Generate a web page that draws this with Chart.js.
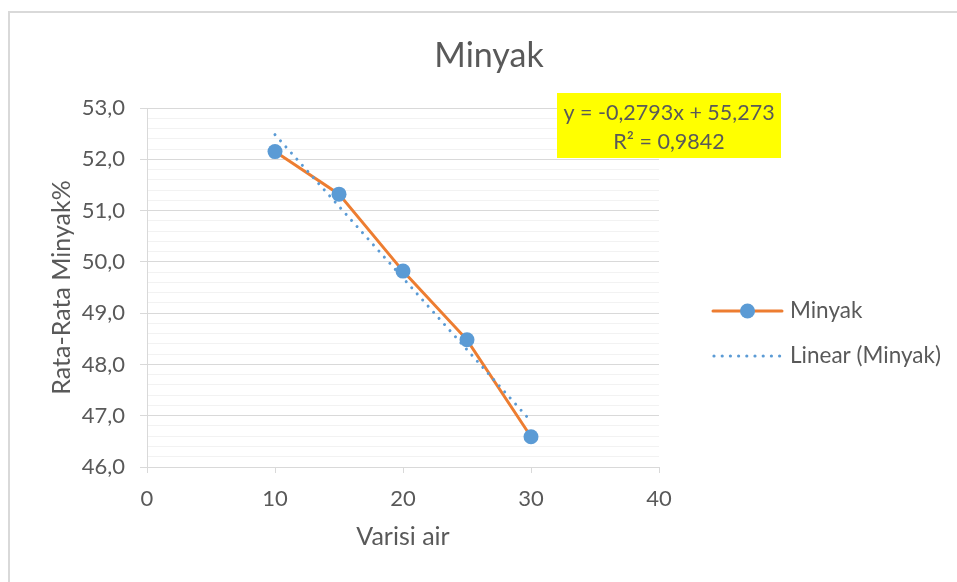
<!DOCTYPE html>
<html>
<head>
<meta charset="utf-8">
<script src="https://cdn.jsdelivr.net/npm/chart.js@4"></script>
<style>
  html, body { margin: 0; padding: 0; background: #fff; overflow: hidden; }
  #frame { position: absolute; left: 8px; top: 11px; width: 1000px; height: 700px; border: 2px solid #d9d9d9; box-sizing: border-box; }
  #wrap { position: absolute; left: 0; top: 0; width: 957px; height: 582px; }
</style>
</head>
<body>
<div id="frame"></div>
<div id="wrap"><canvas id="c" width="957" height="582"></canvas></div>
<script>
// ---- data ----
const chartTitle = 'Minyak';
const xTitle = 'Varisi air';
const yTitle = 'Rata-Rata Minyak%';
const variasiAir = [10, 15, 20, 25, 30];
const minyak = [52.15, 51.32, 49.82, 48.48, 46.59];
const trendX = [10, 30];
const trendY = [52.48, 46.89];
const equationLines = ['y = -0,2793x + 55,273', 'R² = 0,9842'];
const legendLabels = ['Minyak', 'Linear (Minyak)'];

const ORANGE = '#ED7D31';
const BLUE = '#5B9BD5';
const TEXT = '#595959';
const FONT = 'Lato, "Open Sans", sans-serif';

const pts = variasiAir.map((x, i) => ({ x, y: minyak[i] }));
const trendPts = trendX.map((x, i) => ({ x, y: trendY[i] }));

const isMajor = v => Math.abs(v - Math.round(v)) < 1e-6;

const extras = {
  id: 'extras',
  afterDraw(chart) {
    const ctx = chart.ctx;
    ctx.save();
    // title
    ctx.fillStyle = TEXT;
    ctx.font = '34px ' + FONT;
    ctx.textAlign = 'center';
    ctx.textBaseline = 'middle';
    ctx.fillText(chartTitle, 489, 56);

    // equation box
    const bx = 557, by = 93, bw = 224, bh = 65;
    ctx.fillStyle = '#FFFF00';
    ctx.fillRect(bx, by, bw, bh);
    ctx.fillStyle = TEXT;
    ctx.font = '21.5px ' + FONT;
    ctx.fillText(equationLines[0], bx + bw / 2, 113);
    ctx.fillText(equationLines[1], bx + bw / 2, 142);

    // legend
    const lx0 = 713, lx1 = 782, y1 = 311, y2 = 356;
    ctx.strokeStyle = ORANGE;
    ctx.lineWidth = 3;
    ctx.lineCap = 'round';
    ctx.beginPath(); ctx.moveTo(lx0, y1); ctx.lineTo(lx1, y1); ctx.stroke();
    ctx.fillStyle = BLUE;
    ctx.beginPath(); ctx.arc((lx0 + lx1) / 2, y1, 7.5, 0, Math.PI * 2); ctx.fill();
    for (let x = lx0 + 1; x <= lx1; x += 8.2) {
      ctx.beginPath(); ctx.arc(x, y2, 1.6, 0, Math.PI * 2); ctx.fill();
    }
    ctx.fillStyle = TEXT;
    ctx.font = '22.5px ' + FONT;
    ctx.textAlign = 'left';
    ctx.fillText(legendLabels[0], 790, y1);
    ctx.fillText(legendLabels[1], 790, y2);
    ctx.restore();
  }
};

new Chart(document.getElementById('c'), {
  type: 'scatter',
  data: {
    datasets: [
      {
        label: legendLabels[1],
        data: trendPts,
        showLine: true,
        borderColor: BLUE,
        borderWidth: 3,
        borderDash: [0.01, 8.2],
        borderCapStyle: 'round',
        pointRadius: 0,
        fill: false
      },
      {
        label: legendLabels[0],
        data: pts,
        showLine: true,
        borderColor: ORANGE,
        borderWidth: 3,
        pointRadius: 7.5,
        pointHoverRadius: 7.5,
        pointBackgroundColor: BLUE,
        pointBorderColor: BLUE,
        pointBorderWidth: 0,
        fill: false
      }
    ]
  },
  options: {
    responsive: false,
    animation: false,
    layout: { padding: { left: 0, right: 298, top: 108, bottom: 0 } },
    plugins: { legend: { display: false }, title: { display: false }, tooltip: { enabled: false } },
    scales: {
      x: {
        type: 'linear',
        min: 0, max: 40,
        afterFit: s => { s.height = 115; },
        ticks: { stepSize: 10, color: TEXT, font: { family: FONT, size: 22 }, padding: 13 },
        grid: { drawOnChartArea: false, drawTicks: true, tickLength: 6, tickColor: '#d9d9d9' },
        border: { display: true, color: '#d9d9d9', width: 1 },
        title: { display: true, text: xTitle, color: TEXT, font: { family: FONT, size: 25 }, padding: { top: 0, bottom: 30 } }
      },
      y: {
        type: 'linear',
        min: 46, max: 53,
        afterFit: s => { s.width = 147; },
        ticks: {
          stepSize: 0.2, autoSkip: false, color: TEXT, font: { family: FONT, size: 22 }, padding: 15,
          callback: v => isMajor(v) ? Math.round(v).toFixed(1).replace('.', ',') : ''
        },
        grid: {
          drawTicks: true, tickLength: 7,
          color: c => isMajor(c.tick.value) ? '#d9d9d9' : '#f2f2f2',
          tickColor: c => isMajor(c.tick.value) ? '#d9d9d9' : 'rgba(0,0,0,0)',
          lineWidth: 1
        },
        border: { display: true, color: '#d9d9d9', width: 1 },
        title: { display: true, text: yTitle, color: TEXT, font: { family: FONT, size: 25 }, padding: { top: 47, bottom: 0 } }
      }
    }
  },
  plugins: [extras]
});
</script>
</body>
</html>
